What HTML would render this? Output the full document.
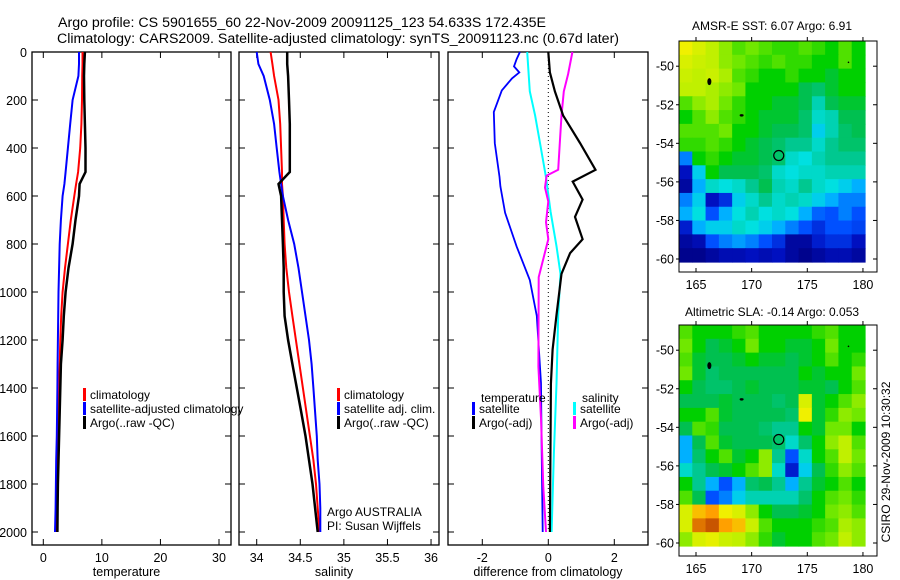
<!DOCTYPE html>
<html><head><meta charset="utf-8">
<style>
html,body{margin:0;padding:0;background:#fff;}
svg{display:block;font-family:"Liberation Sans",sans-serif;}
text{fill:#000;}
</style></head>
<body>
<svg id="c" width="900" height="580" viewBox="0 0 900 580">
<text x="58" y="27" font-size="14.2">Argo profile: CS 5901655_60 22-Nov-2009 20091125_123 54.633S 172.435E</text>
<text x="57" y="43" font-size="14.2">Climatology: CARS2009. Satellite-adjusted climatology: synTS_20091123.nc (0.67d later)</text>
<text x="772" y="30" font-size="12" text-anchor="middle">AMSR-E SST: 6.07  Argo: 6.91</text>
<text x="772" y="316" font-size="12" text-anchor="middle">Altimetric SLA: -0.14  Argo: 0.053</text>
<text transform="translate(890,462) rotate(-90)" font-size="12" text-anchor="middle">CSIRO 29-Nov-2009 10:30:32</text>
<g id="g"></g>
</svg>
<script>
// ---------- data ----------
const tDepths=[0,50,100,200,300,400,500,550,600,700,800,900,1000,1100,1200,1300,1400,1500,1600,1700,1800,1900,2000];
const tempClim=[6.7,6.7,6.65,6.6,6.5,6.3,5.95,5.6,5.3,4.7,4.2,3.7,3.3,3.05,2.9,2.8,2.7,2.6,2.5,2.45,2.4,2.35,2.3];
const tempSat=[6.1,6.1,6.0,5.0,4.6,4.2,3.8,3.6,3.3,3.0,2.8,2.7,2.6,2.55,2.5,2.45,2.4,2.35,2.3,2.2,2.15,2.1,2.0];
const tempArgo=[7.1,7.0,6.95,7.0,7.1,7.2,7.2,6.2,6.1,5.5,5.0,4.3,3.8,3.5,3.3,3.0,2.9,2.8,2.7,2.6,2.5,2.45,2.4];
const salClim=[34.16,34.18,34.2,34.25,34.27,34.28,34.29,34.29,34.3,34.31,34.32,34.34,34.37,34.41,34.45,34.49,34.53,34.57,34.61,34.65,34.68,34.7,34.72];
const salSat=[34.0,34.02,34.08,34.15,34.2,34.23,34.26,34.28,34.3,34.36,34.43,34.48,34.52,34.56,34.6,34.63,34.65,34.67,34.69,34.7,34.72,34.73,34.73];
const salArgo=[34.35,34.35,34.36,34.37,34.38,34.38,34.38,34.25,34.28,34.29,34.3,34.31,34.31,34.32,34.36,34.41,34.46,34.51,34.56,34.6,34.64,34.67,34.7];
const dTempSatDepths=[0,30,60,85,110,160,250,380,520,560,670,810,950,1100,1380,1670,2000];
const dTempSat=[-0.86,-0.96,-1.04,-0.88,-1.1,-1.41,-1.65,-1.62,-1.48,-1.45,-1.31,-0.96,-0.56,-0.35,-0.22,-0.2,-0.17];
const dTempArgoDepths=[0,85,164,264,379,491,540,615,687,780,838,924,1096,1240,1383,2000];
const dTempArgo=[0,0.05,0.2,0.45,0.96,1.43,0.74,1.04,0.81,1.04,0.66,0.4,0.25,0.13,0.08,0.05];
const dSalSatDepths=[0,164,264,379,522,666,809,924,1096,1383,1670,2000];
const dSalSat=[-0.64,-0.56,-0.4,-0.25,-0.07,0.07,0.25,0.37,0.3,0.25,0.17,0.1];
const dSalArgoDepths=[0,92,164,264,379,491,515,565,623,709,780,938,1311,1526,1813,2000];
const dSalArgo=[0.73,0.6,0.47,0.4,0.35,0.3,-0.05,-0.1,0,-0.07,0,-0.29,-0.3,-0.22,-0.15,-0.07];
const depthTicks=[0,200,400,600,800,1000,1200,1400,1600,1800,2000];
const tempTicks=[0,10,20,30];
const salTicks=[34,34.5,35,35.5,36];
const salTickLabels=["34","34.5","35","35.5","36"];
const diffTicks=[-2,0,2];
const lonTicks=[165,170,175,180];
const latTicks=[-50,-52,-54,-56,-58,-60];
const sstGrid=[
[0.8,0.75,0.7,0.65,0.6,0.62,0.6,0.58,0.58,0.6,0.58,0.55,0.6,0.55],
[0.75,0.72,0.7,0.65,0.62,0.6,0.58,0.6,0.58,0.58,0.55,0.55,0.6,0.55],
[0.72,0.7,0.72,0.68,0.6,0.58,0.55,0.55,0.58,0.55,0.55,0.52,0.55,0.55],
[0.7,0.7,0.68,0.65,0.62,0.55,0.55,0.55,0.55,0.5,0.48,0.52,0.55,0.55],
[0.6,0.65,0.68,0.62,0.58,0.55,0.55,0.52,0.52,0.5,0.42,0.5,0.52,0.52],
[0.55,0.6,0.65,0.6,0.58,0.55,0.52,0.52,0.52,0.48,0.4,0.42,0.5,0.5],
[0.6,0.6,0.6,0.62,0.55,0.55,0.52,0.5,0.5,0.48,0.35,0.42,0.48,0.5],
[0.58,0.58,0.6,0.58,0.55,0.52,0.5,0.48,0.45,0.45,0.4,0.45,0.48,0.48],
[0.25,0.55,0.58,0.55,0.52,0.52,0.5,0.48,0.4,0.38,0.42,0.45,0.45,0.45],
[0.1,0.35,0.55,0.5,0.5,0.5,0.48,0.4,0.38,0.4,0.4,0.42,0.42,0.42],
[0.05,0.3,0.4,0.38,0.4,0.45,0.5,0.42,0.4,0.45,0.4,0.38,0.35,0.3],
[0.25,0.35,0.1,0.15,0.35,0.4,0.45,0.4,0.42,0.4,0.35,0.3,0.25,0.25],
[0.3,0.38,0.2,0.3,0.38,0.42,0.38,0.4,0.38,0.3,0.22,0.2,0.25,0.2],
[0.12,0.3,0.35,0.35,0.4,0.38,0.35,0.3,0.25,0.2,0.15,0.2,0.2,0.18],
[0.05,0.08,0.2,0.25,0.28,0.25,0.2,0.15,0.05,0.05,0.12,0.15,0.15,0.1],
[0.02,0.02,0.05,0.08,0.08,0.1,0.08,0.1,0.05,0.02,0.05,0.08,0.08,0.05]];
const slaGrid=[
[0.6,0.55,0.55,0.55,0.58,0.6,0.55,0.55,0.55,0.55,0.58,0.6,0.55,0.55],
[0.62,0.55,0.5,0.52,0.55,0.62,0.55,0.55,0.52,0.52,0.55,0.62,0.55,0.55],
[0.6,0.52,0.5,0.5,0.52,0.55,0.52,0.52,0.5,0.52,0.55,0.6,0.55,0.58],
[0.62,0.52,0.48,0.5,0.5,0.5,0.5,0.5,0.5,0.55,0.52,0.55,0.55,0.62],
[0.55,0.5,0.48,0.48,0.5,0.52,0.5,0.5,0.5,0.52,0.52,0.5,0.55,0.6],
[0.5,0.5,0.5,0.52,0.5,0.5,0.5,0.48,0.5,0.75,0.52,0.55,0.6,0.65],
[0.55,0.55,0.6,0.52,0.5,0.5,0.5,0.5,0.48,0.8,0.52,0.58,0.65,0.62],
[0.5,0.6,0.58,0.5,0.5,0.5,0.48,0.45,0.45,0.55,0.52,0.62,0.62,0.55],
[0.3,0.5,0.6,0.52,0.5,0.5,0.5,0.48,0.4,0.48,0.55,0.65,0.7,0.6],
[0.3,0.48,0.55,0.6,0.52,0.55,0.65,0.45,0.2,0.4,0.55,0.6,0.7,0.62],
[0.4,0.45,0.5,0.52,0.55,0.6,0.65,0.4,0.12,0.35,0.5,0.58,0.65,0.6],
[0.55,0.45,0.3,0.2,0.3,0.48,0.5,0.45,0.3,0.45,0.52,0.55,0.6,0.55],
[0.6,0.5,0.2,0.25,0.35,0.42,0.42,0.42,0.42,0.48,0.55,0.6,0.62,0.58],
[0.75,0.85,0.88,0.8,0.75,0.65,0.55,0.5,0.5,0.52,0.55,0.62,0.65,0.6],
[0.75,0.92,0.95,0.88,0.85,0.72,0.6,0.55,0.55,0.55,0.58,0.6,0.68,0.65],
[0.65,0.75,0.78,0.72,0.7,0.65,0.58,0.52,0.55,0.55,0.6,0.62,0.7,0.65]];
const argoLon=172.435, argoLat=-54.633;

// ---------- helpers ----------
const NS="http://www.w3.org/2000/svg";
const G=document.getElementById('g');
function mk(tag,attrs,parent){const e=document.createElementNS(NS,tag);for(const k in attrs)e.setAttribute(k,attrs[k]);(parent||G).appendChild(e);return e;}
const yD=d=>52+d*0.24;
const panelTop=52, panelBot=545;
function panel(x0,x1,name,xTicks,xLabels,xFn,xTitle,showDepth){
  const r=mk('rect',{x:x0,y:panelTop,width:x1-x0,height:panelBot-panelTop,fill:'none',stroke:'#000','stroke-width':1.3});
  
  
  depthTicks.forEach(d=>{
    mk('line',{x1:x0,x2:x0+6,y1:yD(d),y2:yD(d),stroke:'#000'});
    mk('line',{x1:x1-6,x2:x1,y1:yD(d),y2:yD(d),stroke:'#000'});
    if(showDepth){const t=mk('text',{x:x0-5,y:yD(d)+5,'font-size':12.5,'text-anchor':'end'});t.textContent=d;
      
      }
  });
  xTicks.forEach((v,i)=>{const x=xFn(v);
    mk('line',{x1:x,x2:x,y1:panelBot,y2:panelBot-6,stroke:'#000'});
    mk('line',{x1:x,x2:x,y1:panelTop,y2:panelTop+6,stroke:'#000'});
    const t=mk('text',{x:x,y:562,'font-size':12.5,'text-anchor':'middle'});t.textContent=xLabels[i];
    
    
  });
  const tt=mk('text',{x:(x0+x1)/2-(name==='diff-panel'?0:5),y:576,'font-size':12.5,'text-anchor':'middle'});tt.textContent=xTitle;
  
  
}
function line(vals,depths,xFn,color,w,name){
  const pts=vals.map((v,i)=>xFn(v).toFixed(1)+','+yD(depths[i]).toFixed(1)).join(' ');
  const p=mk('polyline',{points:pts,fill:'none',stroke:color,'stroke-width':w,'stroke-linejoin':'miter'});
  
  
}
function legend(x,y,color,label,name){
  mk('rect',{x:x,y:y-10,width:3,height:13,fill:color});
  const t=mk('text',{x:x+7,y:y+1,'font-size':12});t.textContent=label;
  
  
}

// ---------- temperature panel ----------
const xT=v=>43.3+v*5.857;
panel(32,231,'temp-panel',tempTicks,tempTicks.map(String),xT,'temperature',true);
line(tempClim,tDepths,xT,'#ff0000',2,'temp-climatology-line');
line(tempSat,tDepths,xT,'#0000ff',2,'temp-satellite-line');
line(tempArgo,tDepths,xT,'#000000',2.5,'temp-argo-line');
legend(83,398,'#ff0000','climatology','temp-legend-climatology');
legend(83,412,'#0000ff','satellite-adjusted climatology','temp-legend-satellite');
legend(83,426,'#000000','Argo(..raw -QC)','temp-legend-argo');

// ---------- salinity panel ----------
const xS=v=>256.7+(v-34)*87.17;
panel(239,439,'sal-panel',salTicks,salTickLabels,xS,'salinity',false);
line(salClim,tDepths,xS,'#ff0000',2,'sal-climatology-line');
line(salSat,tDepths,xS,'#0000ff',2,'sal-satellite-line');
line(salArgo,tDepths,xS,'#000000',2.5,'sal-argo-line');
legend(337,398,'#ff0000','climatology','sal-legend-climatology');
legend(337,412,'#0000ff','satellite adj. clim.','sal-legend-satellite');
legend(337,426,'#000000','Argo(..raw -QC)','sal-legend-argo');
const a1=mk('text',{x:327,y:516,'font-size':12});a1.textContent='Argo AUSTRALIA';


const a2=mk('text',{x:327,y:530,'font-size':12});a2.textContent='PI: Susan Wijffels';



// ---------- difference panel ----------
const xDf=v=>548.3+v*33;
panel(448,648,'diff-panel',diffTicks,diffTicks.map(String),xDf,'difference from climatology',false);
mk('line',{x1:xDf(0),x2:xDf(0),y1:panelTop,y2:yD(2000),stroke:'#000','stroke-dasharray':'1,3'});
line(dTempSat,dTempSatDepths,xDf,'#0000ff',1.8,'diff-temp-satellite-line');
line(dSalSat,dSalSatDepths,xDf,'#00ffff',2,'diff-sal-satellite-line');
line(dSalArgo,dSalArgoDepths,xDf,'#ff00ff',2,'diff-sal-argo-line');
line(dTempArgo,dTempArgoDepths,xDf,'#000000',2.2,'diff-temp-argo-line');
const tl=mk('text',{x:481,y:402,'font-size':12});tl.textContent='temperature';


const sl=mk('text',{x:582,y:402,'font-size':12});sl.textContent='salinity';


legend(472,412,'#0000ff','satellite','diff-legend-temp-satellite');
legend(472,426,'#000000','Argo(-adj)','diff-legend-temp-argo');
legend(573,412,'#00ffff','satellite','diff-legend-sal-satellite');
legend(573,426,'#ff00ff','Argo(-adj)','diff-legend-sal-argo');

// ---------- maps ----------
const stops=[[0,[0,0,128]],[0.1,[0,16,192]],[0.2,[0,80,255]],[0.3,[0,176,255]],[0.38,[0,224,224]],[0.45,[0,200,144]],[0.5,[0,192,80]],[0.55,[0,208,0]],[0.62,[112,232,0]],[0.7,[192,240,0]],[0.8,[240,240,0]],[0.88,[255,160,0]],[1,[160,32,0]]];
function cmap(v){for(let i=1;i<stops.length;i++){if(v<=stops[i][0]){const a=stops[i-1],b=stops[i],t=(v-a[0])/(b[0]-a[0]);
  const c=a[1].map((x,k)=>Math.round(x+(b[1][k]-x)*t));return 'rgb('+c.join(',')+')';}}return 'rgb(160,32,0)';}
function map(grid,top,name){
  const x0=679,x1=865,imgBot=top+221,boxR=877,boxB=top+231;
  const rows=grid.length,cols=grid[0].length,cw=(x1-x0)/cols,ch=(imgBot-top)/rows;
  const lonX=l=>696+(l-165)*11.13;
  const latY=l=>top+25.2+(-50-l)*19.28;
  grid.forEach((row,r)=>row.forEach((v,c)=>{
    const cell=mk('rect',{x:(x0+c*cw).toFixed(2),y:(top+r*ch).toFixed(2),width:(cw+0.6).toFixed(2),height:(ch+0.6).toFixed(2),fill:cmap(v)});
    
    
  }));
  const fr=mk('rect',{x:x0,y:top,width:boxR-x0,height:boxB-top,fill:'none',stroke:'#000','stroke-width':1});
  
  
  lonTicks.forEach(l=>{const x=lonX(l);
    mk('line',{x1:x,x2:x,y1:top,y2:top-4,stroke:'#000'});
    mk('line',{x1:x,x2:x,y1:boxB,y2:boxB-4,stroke:'#000'});
    const t=mk('text',{x:x,y:boxB+17,'font-size':12.5,'text-anchor':'middle'});t.textContent=l;
    
    
  });
  latTicks.forEach(l=>{const y=latY(l);
    mk('line',{x1:x0,x2:x0-3,y1:y,y2:y,stroke:'#000'});
    mk('line',{x1:boxR,x2:boxR-4,y1:y,y2:y,stroke:'#000'});
    const t=mk('text',{x:674,y:y+4.5,'font-size':12.5,'text-anchor':'end'});t.textContent=l;
    
    
  });
  [[166.2,-50.8,2,3.5],[169.1,-52.55,2,1.2],[178.7,-49.8,0.8,0.8]].forEach(s=>{
    mk('ellipse',{cx:lonX(s[0]),cy:latY(s[1]),rx:s[2],ry:s[3],fill:'#000'});
  });
  const m=mk('circle',{cx:lonX(argoLon),cy:latY(argoLat),r:5,fill:'none',stroke:'#000','stroke-width':1.2});
  
  
}
map(sstGrid,41,'sst-map');
map(slaGrid,325,'sla-map');
</script>
</body></html>
